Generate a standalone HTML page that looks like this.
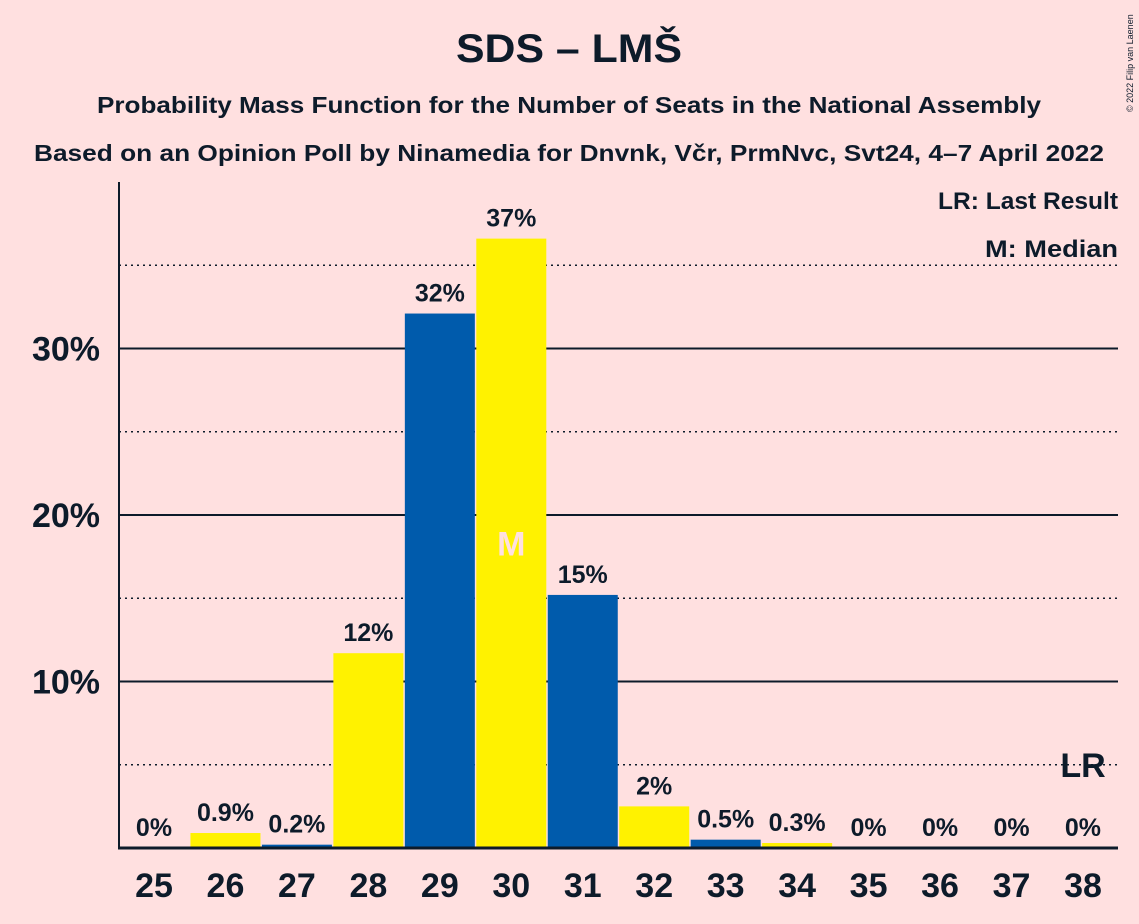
<!DOCTYPE html>
<html><head><meta charset="utf-8"><style>
body{margin:0;background:#FFE0E0;}
svg{display:block;font-family:"Liberation Sans",sans-serif;font-weight:bold;}
</style></head><body>
<svg id="chart" width="1139" height="924">
<rect width="1139" height="924" fill="#FFE0E0"/>
<text x="569" y="62" text-anchor="middle" font-size="40" fill="#0d1b2a" textLength="226" lengthAdjust="spacingAndGlyphs">SDS – LMŠ</text>
<text x="569" y="113" text-anchor="middle" font-size="23" fill="#0d1b2a" textLength="944" lengthAdjust="spacingAndGlyphs">Probability Mass Function for the Number of Seats in the National Assembly</text>
<text x="569" y="161" text-anchor="middle" font-size="23" fill="#0d1b2a" textLength="1070" lengthAdjust="spacingAndGlyphs">Based on an Opinion Poll by Ninamedia for Dnvnk, Včr, PrmNvc, Svt24, 4–7 April 2022</text>
<text x="1133" y="112" font-size="9" font-weight="normal" fill="#0d1b2a" transform="rotate(-90 1133 112)">© 2022 Filip van Laenen</text>
<text x="1118" y="209" text-anchor="end" font-size="24" fill="#0d1b2a" textLength="180" lengthAdjust="spacingAndGlyphs">LR: Last Result</text>
<text x="1118" y="257" text-anchor="end" font-size="24" fill="#0d1b2a" textLength="133" lengthAdjust="spacingAndGlyphs">M: Median</text>
<g id="grid"></g><g id="bars"></g><g id="labels"></g>
<line x1="119" y1="182" x2="119" y2="849" stroke="#0d1b2a" stroke-width="2"/>
<line x1="118" y1="848" x2="1118" y2="848" stroke="#0d1b2a" stroke-width="3"/>
</svg>
<script>
const seats=[25,26,27,28,29,30,31,32,33,34,35,36,37,38];
const probs=[0,0.9,0.2,11.7,32.1,36.6,15.2,2.5,0.5,0.3,0,0,0,0];
const probLabels=["0%","0.9%","0.2%","12%","32%","37%","15%","2%","0.5%","0.3%","0%","0%","0%","0%"];
const yTicks=[10,20,30];
const yTickLabels=["10%","20%","30%"];
const dotted=[5,15,25,35];
const medianSeat=30, lastResult=38;
const ns="http://www.w3.org/2000/svg";
const y=v=>848-v*16.65;
const x=s=>154+(s-25)*71.46;
function mk(t,a,p){const e=document.createElementNS(ns,t);for(const k in a)e.setAttribute(k,a[k]);p.appendChild(e);return e;}
const grid=document.getElementById('grid'),bars=document.getElementById('bars'),labels=document.getElementById('labels');
dotted.forEach(v=>{const l=mk('line',{x1:119,x2:1118,y1:y(v),y2:y(v),stroke:'#0d1b2a','stroke-width':1.5,'stroke-dasharray':'2,4'},grid);

});
yTicks.forEach((v,i)=>{const l=mk('line',{x1:119,x2:1118,y1:y(v),y2:y(v),stroke:'#0d1b2a','stroke-width':2},grid);


const t=mk('text',{x:100,y:y(v)+12,'text-anchor':'end','font-size':34,fill:'#0d1b2a'},labels);t.textContent=yTickLabels[i];

});
seats.forEach((s,i)=>{
const col=(s%2===0)?'#FFF200':'#005BAC';
if(probs[i]>0){const r=mk('rect',{x:x(s)-35,y:y(probs[i]),width:70,height:848-y(probs[i]),fill:col},bars);

}
const lbl=mk('text',{x:x(s),y:y(probs[i])-12,'text-anchor':'middle','font-size':25,fill:'#0d1b2a'},labels);lbl.textContent=probLabels[i];


const xt=mk('text',{x:x(s),y:897,'text-anchor':'middle','font-size':34,fill:'#0d1b2a'},labels);xt.textContent=s;


if(s===medianSeat){const m=mk('text',{x:x(s),y:y(probs[i]/2)+12,'text-anchor':'middle','font-size':34,fill:'#FFE0E0'},labels);m.textContent='M';

}
if(s===lastResult){const m=mk('text',{x:x(s),y:777,'text-anchor':'middle','font-size':34,fill:'#0d1b2a'},labels);m.textContent='LR';

}
});
</script>
</body></html>
